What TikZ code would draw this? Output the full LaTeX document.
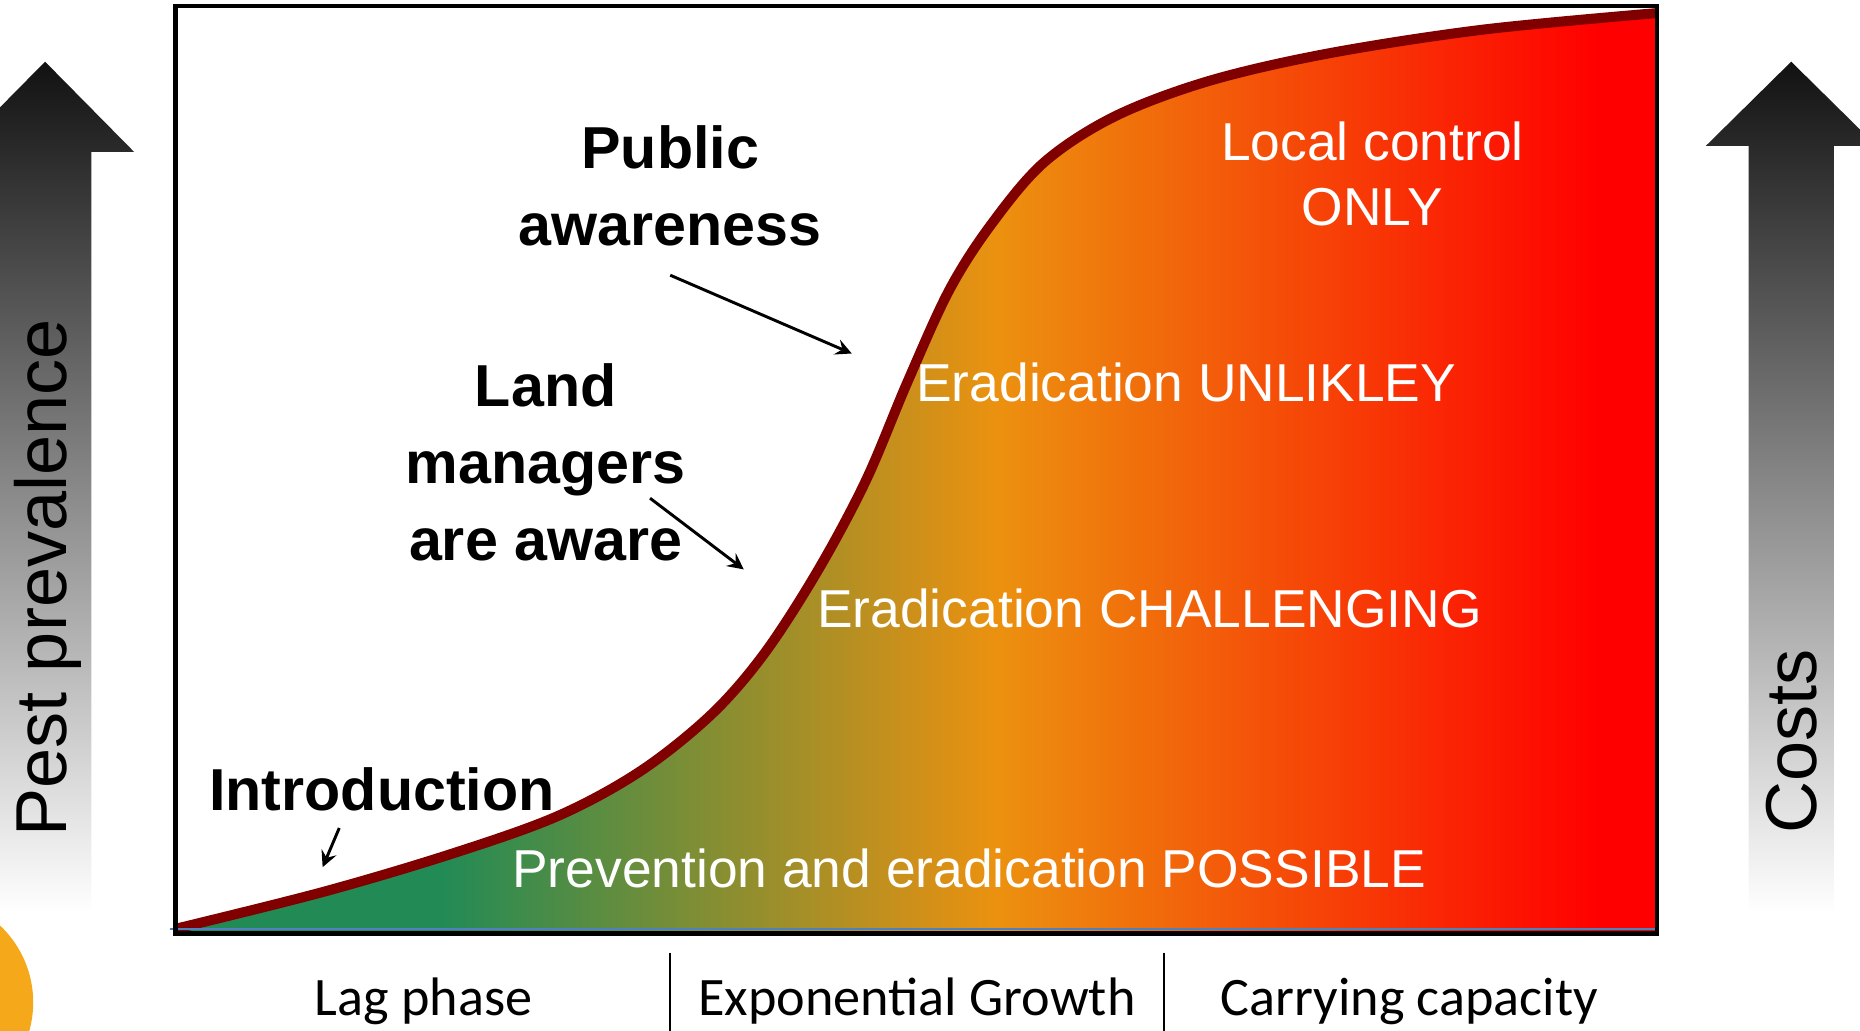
\documentclass[tikz,border=0pt]{standalone}
\usepackage{fontspec}
\setmainfont{Liberation Sans}
\newfontfamily\calibri{Carlito}

\definecolor{laggreen}{RGB}{34,139,85}
\definecolor{exporange}{RGB}{236,145,15}
\definecolor{capred}{RGB}{255,0,0}
\definecolor{curvered}{RGB}{128,0,0}
\definecolor{sunorange}{RGB}{246,168,27}
\definecolor{edgeblue}{RGB}{79,129,189}

% green -> orange -> red along the invasion curve
\pgfdeclarehorizontalshading{invasion}{100bp}{color(0bp)=(laggreen); color(34bp)=(laggreen);
  color(52.75bp)=(exporange); color(73bp)=(capred); color(100bp)=(capred)}

\tikzset{
  sidelabel/.style={rotate=90, font=\fontsize{17.3}{20}\selectfont},
  stagelabel/.style={font=\bfseries\fontsize{14.2}{18.5}\selectfont, align=center},
  zonelabel/.style={text=white, font=\fontsize{12.8}{15.6}\selectfont, align=center},
  phaselabel/.style={font=\calibri\fontsize{13}{15}\selectfont},
  sidearrow/.style={top color=black!93, bottom color=white, draw=none},
  pointer/.style={->, line width=0.7pt, -stealth},
}

\begin{document}
\begin{tikzpicture}
 \clip (0,0) rectangle (15.68,-8.69);

 % side arrows
 \path[sidearrow] (-0.01,-7.70) -- (-0.01,-1.28) -- (-0.37,-1.28) -- (0.38,-0.52)
   -- (1.13,-1.28) -- (0.77,-1.28) -- (0.77,-7.70) -- cycle;
 \path[sidearrow] (14.74,-7.70) -- (14.74,-1.23) -- (14.38,-1.23) -- (15.10,-0.52)
   -- (15.82,-1.23) -- (15.46,-1.23) -- (15.46,-7.70) -- cycle;
 \fill[sunorange] (-0.61,-8.45) circle (0.89);

 \node[sidelabel] at (0.40, -4.87) (prev) {Pest prevalence};
 \node[sidelabel] at (15.10, -6.25) (cost) {Costs};

 % filled area under the curve
 \shade[shading=invasion] plot[smooth, tension=0.55] coordinates {
   (1.48,-7.83) (2.72,-7.52) (3.80,-7.20) (4.70,-6.88) (5.40,-6.50) (6.00,-6.02)
   (6.45,-5.50) (6.90,-4.80) (7.30,-4.05) (7.65,-3.22) (8.00,-2.45) (8.35,-1.90)
   (8.80,-1.37) (9.40,-0.98) (10.20,-0.68) (11.20,-0.45) (12.50,-0.25) (13.97,-0.11)}
   -- (13.97,-7.87) -- (1.48,-7.87) -- cycle;
 \draw[curvered, line width=2.4pt] plot[smooth, tension=0.55] coordinates {
   (1.48,-7.83) (2.72,-7.52) (3.80,-7.20) (4.70,-6.88) (5.40,-6.50) (6.00,-6.02)
   (6.45,-5.50) (6.90,-4.80) (7.30,-4.05) (7.65,-3.22) (8.00,-2.45) (8.35,-1.90)
   (8.80,-1.37) (9.40,-0.98) (10.20,-0.68) (11.20,-0.45) (12.50,-0.25) (13.97,-0.11)};
 \draw[edgeblue, line width=0.6pt] (1.43,-7.83) -- (13.97,-7.83);
 \draw[line width=1pt] (1.48,-0.05) rectangle (13.97,-7.87);

 \node[zonelabel] at (11.57, -1.47) (local) {Local control\\ONLY};
 \node[zonelabel] at (10.00, -3.22) (unlikely) {Eradication UNLIKLEY};
 \node[zonelabel] at (9.69, -5.13) (challenging) {Eradication CHALLENGING};
 \node[zonelabel] at (8.17, -7.32) (possible) {Prevention and eradication POSSIBLE};

 \node[stagelabel] at (5.65, -1.57) (public) {Public\\awareness};
 \node[stagelabel] at (4.60, -3.90) (land) {Land\\managers\\are aware};
 \node[stagelabel] at (3.22, -6.65) (intro) {Introduction};

 \coordinate (publicfrom) at (5.65,-2.32);
 \coordinate (publicto) at (7.18,-2.98);
 \coordinate (landfrom) at (5.48,-4.20);
 \coordinate (landto) at (6.27,-4.80);
 \coordinate (introfrom) at (2.86,-6.98);
 \coordinate (introto) at (2.72,-7.31);
 \draw[pointer] (publicfrom) -- (publicto);
 \draw[pointer] (landfrom) -- (landto);
 \draw[pointer] (introfrom) -- (introto);

 % phases below the axis
 \node[phaselabel] at (3.57, -8.44) (lag) {Lag phase};
 \node[phaselabel] at (7.73, -8.44) (expo) {Exponential Growth};
 \node[phaselabel] at (11.88, -8.44) (carry) {Carrying capacity};
 \draw[line width=0.5pt] (5.65,-8.03) -- (5.65,-8.75);
 \draw[line width=0.5pt] (9.81,-8.03) -- (9.81,-8.75);
\end{tikzpicture}
\end{document}
